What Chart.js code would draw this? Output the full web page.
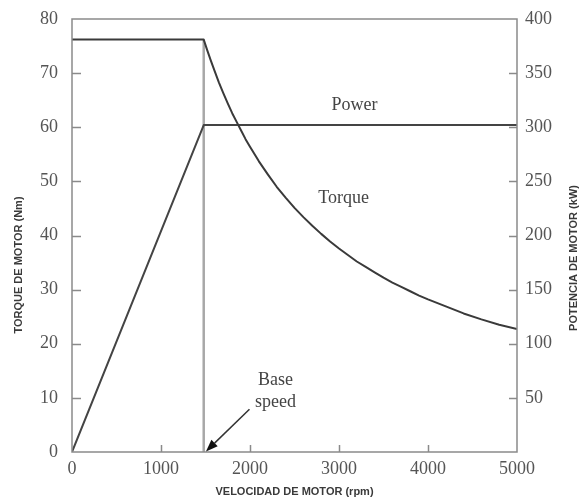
<!DOCTYPE html>
<html><head><meta charset="utf-8">
<script src="https://cdn.jsdelivr.net/npm/chart.js@4/dist/chart.umd.min.js"></script>
<style>html,body{margin:0;padding:0;background:#fff}#wrap{position:relative;width:582px;height:502px}</style>
</head><body><div id="wrap"><canvas id="c" width="582" height="502"></canvas></div>
<script>
// ---- data ----
const torqueRpm = [0, 1480, 1520, 1560, 1600, 1650, 1700, 1750, 1800, 1850, 1900, 1950, 2000, 2100, 2200, 2300, 2400, 2500, 2600, 2700, 2800, 2900, 3000, 3100, 3200, 3300, 3400, 3500, 3600, 3700, 3800, 3900, 4000, 4200, 4400, 4600, 4800, 5000];
const torqueNm  = [76.2, 76.2, 74.2, 72.3, 70.5, 68.3, 66.3, 64.4, 62.6, 61.0, 59.4, 57.8, 56.4, 53.7, 51.3, 49.0, 47.0, 45.1, 43.4, 41.8, 40.3, 38.9, 37.6, 36.4, 35.2, 34.2, 33.2, 32.2, 31.3, 30.5, 29.7, 28.9, 28.2, 26.9, 25.6, 24.5, 23.5, 22.7];
const powerRpm  = [0, 1480, 5000];
const powerKw   = [0, 302, 302];
const baseSpeedRpm = 1480;
const baseSpeedTop = 76.2;
const xTicks = [0, 1000, 2000, 3000, 4000, 5000];
const torqueTicks = [0, 10, 20, 30, 40, 50, 60, 70, 80];
const powerTicks = [50, 100, 150, 200, 250, 300, 350, 400];
const xTitle = 'VELOCIDAD DE MOTOR (rpm)';
const yTitle = 'TORQUE DE MOTOR (Nm)';
const y1Title = 'POTENCIA DE MOTOR (kW)';
const powerLabel = 'Power';
const torqueLabel = 'Torque';
const baseLabel = ['Base', 'speed'];

// annotation anchors in data coordinates (x: rpm, y: torque scale)
const notes = {
  power:  {x: 3175, y: 64.1},
  torque: {x: 3052, y: 46.9},
  base:   {x: 2287, y: 13.3},
  speed:  {x: 2287, y: 9.2},
  arrowFrom: {x: 1994, y: 7.9},
  arrowTo:   {x: 1505, y: 0.1}
};

const serif = '"Liberation Serif", "Times New Roman", serif';
const sans = '"Liberation Sans", Arial, sans-serif';
const tickColor = '#555';
const frameColor = '#8a8a8a';

const zip = (xs, ys) => xs.map((x, i) => ({x: x, y: ys[i]}));

const overlay = {
  id: 'overlay',
  beforeDatasetsDraw(chart) {
    const {ctx, chartArea: a, scales} = chart;
    ctx.save();
    ctx.strokeStyle = frameColor;
    ctx.lineWidth = 1.5;
    ctx.beginPath();
    torqueTicks.forEach(v => {
      if (v === 0 || v === 80) return;
      const y = Math.round(scales.y.getPixelForValue(v)) + 0.5;
      ctx.moveTo(a.left, y); ctx.lineTo(a.left + 9, y);
    });
    powerTicks.forEach(v => {
      if (v === 400) return;
      const y = Math.round(scales.y1.getPixelForValue(v)) + 0.5;
      ctx.moveTo(a.right - 8, y); ctx.lineTo(a.right, y);
    });
    xTicks.forEach(v => {
      if (v === 0 || v === 5000) return;
      const x = Math.round(scales.x.getPixelForValue(v)) + 0.5;
      ctx.moveTo(x, a.bottom); ctx.lineTo(x, a.bottom - 7);
    });
    ctx.stroke();
    ctx.restore();
  },
  afterDatasetsDraw(chart) {
    const {ctx, chartArea: a, scales} = chart;
    const px = p => [scales.x.getPixelForValue(p.x), scales.y.getPixelForValue(p.y)];
    ctx.save();
    ctx.strokeStyle = frameColor;
    ctx.lineWidth = 1.5;
    ctx.strokeRect(a.left, a.top, a.right - a.left, a.bottom - a.top);

    ctx.fillStyle = '#3a3a3a';
    ctx.font = 'bold 11px ' + sans;
    ctx.textAlign = 'center';
    ctx.textBaseline = 'middle';
    ctx.fillText(xTitle, (a.left + a.right) / 2, 492);
    ctx.save();
    ctx.translate(19, 265);
    ctx.rotate(-Math.PI / 2);
    ctx.fillText(yTitle, 0, 0);
    ctx.restore();
    ctx.save();
    ctx.translate(574, 258);
    ctx.rotate(-Math.PI / 2);
    ctx.fillText(y1Title, 0, 0);
    ctx.restore();

    ctx.fillStyle = '#444';
    ctx.font = '18px ' + serif;
    let p = px(notes.power);  ctx.fillText(powerLabel, p[0], p[1]);
    p = px(notes.torque);     ctx.fillText(torqueLabel, p[0], p[1]);
    p = px(notes.base);       ctx.fillText(baseLabel[0], p[0], p[1]);
    p = px(notes.speed);      ctx.fillText(baseLabel[1], p[0], p[1]);

    const f = px(notes.arrowFrom), t = px(notes.arrowTo);
    const ang = Math.atan2(t[1] - f[1], t[0] - f[0]);
    const hl = 12, hw = 4.5;
    const bx = t[0] - hl * Math.cos(ang), by = t[1] - hl * Math.sin(ang);
    ctx.strokeStyle = '#333';
    ctx.lineWidth = 1.5;
    ctx.beginPath(); ctx.moveTo(f[0], f[1]); ctx.lineTo(bx, by); ctx.stroke();
    ctx.fillStyle = '#111';
    ctx.beginPath();
    ctx.moveTo(t[0], t[1]);
    ctx.lineTo(bx + hw * Math.sin(ang), by - hw * Math.cos(ang));
    ctx.lineTo(bx - hw * Math.sin(ang), by + hw * Math.cos(ang));
    ctx.closePath(); ctx.fill();
    ctx.restore();
  }
};

const plain = v => String(v);
const noPad = s => { s.paddingTop = 0; s.paddingBottom = 0; s.paddingLeft = 0; s.paddingRight = 0; };

new Chart(document.getElementById('c'), {
  type: 'line',
  data: {
    datasets: [
      {
        label: 'Base speed', data: zip([baseSpeedRpm, baseSpeedRpm], [0, baseSpeedTop]),
        yAxisID: 'y', borderColor: '#a8a8a8', borderWidth: 2.5, pointRadius: 0, order: 3
      },
      {
        label: 'Power', data: zip(powerRpm, powerKw),
        yAxisID: 'y1', borderColor: '#444', borderWidth: 2, pointRadius: 0, order: 2
      },
      {
        label: 'Torque', data: zip(torqueRpm, torqueNm),
        yAxisID: 'y', borderColor: '#3a3a3a', borderWidth: 2, pointRadius: 0,
        tension: 0, order: 1
      }
    ]
  },
  options: {
    responsive: false, animation: false, devicePixelRatio: 1,
    layout: {padding: {top: 19, left: 0, right: 0, bottom: 0}},
    plugins: {legend: {display: false}, tooltip: {enabled: false}},
    elements: {line: {borderCapStyle: 'butt', borderJoinStyle: 'round'}},
    scales: {
      x: {
        type: 'linear', min: 0, max: 5000,
        afterBuildTicks: s => { s.ticks = xTicks.map(v => ({value: v})); },
        grid: {display: false, drawTicks: false}, border: {display: false},
        ticks: {color: tickColor, font: {family: serif, size: 18}, padding: 6, maxRotation: 0, callback: plain},
        afterFit: s => { noPad(s); s.height = 50; }
      },
      y: {
        type: 'linear', position: 'left', min: 0, max: 80,
        afterBuildTicks: s => { s.ticks = torqueTicks.map(v => ({value: v})); },
        grid: {display: false, drawTicks: false}, border: {display: false},
        ticks: {color: tickColor, font: {family: serif, size: 18}, padding: 14, callback: plain},
        afterFit: s => { noPad(s); s.width = 72; }
      },
      y1: {
        type: 'linear', position: 'right', min: 0, max: 400,
        afterBuildTicks: s => { s.ticks = powerTicks.map(v => ({value: v})); },
        grid: {display: false, drawTicks: false}, border: {display: false},
        ticks: {color: tickColor, font: {family: serif, size: 18}, padding: 8, callback: plain},
        afterFit: s => { noPad(s); s.width = 65; }
      }
    }
  },
  plugins: [overlay]
});
</script>
</body></html>
